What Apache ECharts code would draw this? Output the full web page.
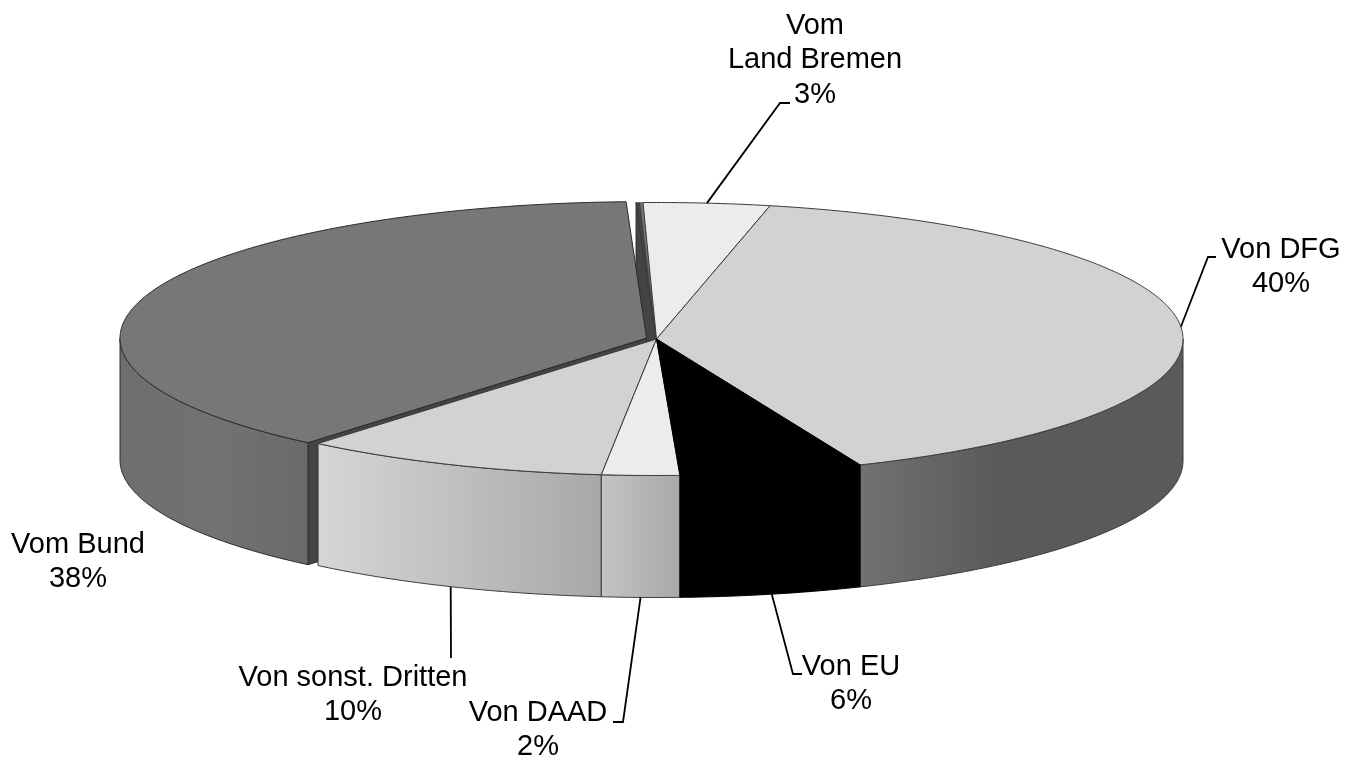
<!DOCTYPE html>
<html>
<head>
<meta charset="utf-8">
<style>html,body{margin:0;padding:0;background:#fff}#c{width:1355px;height:762px}</style>
<script src="https://cdn.jsdelivr.net/npm/echarts@6/dist/echarts.min.js"></script>
</head>
<body>
<div id="c"></div>
<script>
// Clockwise from the top of the pie
var sliceNames = ['Vom Land Bremen', 'Von DFG', 'Von EU', 'Von DAAD', 'Von sonst. Dritten', 'Vom Bund', 'Sonstige A', 'Sonstige B'];
var sliceShares = [3.87, 40.22, 5.61, 2.38, 9.44, 38.27, 0.12, 0.09];
var labelNames = ['Vom\nLand Bremen', 'Von DFG', 'Von EU', 'Von DAAD', 'Von sonst. Dritten', 'Vom Bund'];
var labelPercents = ['3%', '40%', '6%', '2%', '10%', '38%'];

// Styling and layout
var GEO = {cx: 656.5, cy: 339, rx: 526.5, ry: 136.5, depth: 122, startDeg: -1.47};
var topFill = ['#ececec', '#d2d2d2', '#000000', '#ececec', '#d2d2d2', '#777777', '#444444', '#777777'];
var wallStops = [
  null,
  [[0, '#727272'], [0.42, '#5a5a5a'], [1, '#5a5a5a']],
  [[0, '#000000'], [1, '#000000']],
  [[0, '#c4c4c4'], [1, '#a8a8a8']],
  [[0, '#d6d6d6'], [1, '#a8a8a8']],
  [[0, '#6e6e6e'], [0.5, '#727272'], [1, '#6a6a6a']],
  null, null
];
var outline = ['#3a3a3a', '#3a3a3a', '#000000', '#3a3a3a', '#3a3a3a', '#2a2a2a', '#3a3a3a', '#3a3a3a'];
var cutFaceFill = [null, null, null, null, null, '#444444', '#444444', null];
var explode = [0, 0, 0, 0, 0, 0.02, 0, 0];
var drawOrder = [6, 7, 0, 1, 5, 4, 3, 2];
var labelLayout = [
  {x: 815, y: 24, elbow: [780, 103], end: [790, 103], slice: 0},
  {x: 1281, y: 248, elbow: [1208, 257], end: [1216, 257], slice: 1},
  {x: 851, y: 665, elbow: [793, 674], end: [802, 674], slice: 2},
  {x: 538, y: 711, elbow: [623, 722], end: [613, 722], slice: 3},
  {x: 353, y: 676, elbow: [451, 658], end: null, slice: 4},
  {x: 78, y: 543, elbow: null, end: null, slice: 5}
];

var total = sliceShares.reduce(function (a, b) { return a + b; }, 0);
var bounds = [];
(function () {
  var cum = 0;
  sliceShares.forEach(function (v) {
    var a0 = echarts.number.linearMap(cum, [0, total], [GEO.startDeg, GEO.startDeg + 360]);
    cum += v;
    var a1 = echarts.number.linearMap(cum, [0, total], [GEO.startDeg, GEO.startDeg + 360]);
    bounds.push([a0, a1]);
  });
})();

function offsetOf(i) {
  var mid = (bounds[i][0] + bounds[i][1]) / 2 * Math.PI / 180;
  return [explode[i] * GEO.rx * Math.sin(mid), -explode[i] * GEO.ry * Math.cos(mid)];
}
function rimPoint(deg, off, drop) {
  var t = deg * Math.PI / 180;
  return [GEO.cx + off[0] + GEO.rx * Math.sin(t), GEO.cy + off[1] - GEO.ry * Math.cos(t) + (drop || 0)];
}
function arc(a0, a1, off, drop) {
  var n = Math.max(2, Math.ceil(Math.abs(a1 - a0) / 0.5)), pts = [];
  for (var k = 0; k <= n; k++) pts.push(rimPoint(a0 + (a1 - a0) * k / n, off, drop));
  return pts;
}

function renderSlice(params, api) {
  var i = api.value(0), a0 = bounds[i][0], a1 = bounds[i][1], off = offsetOf(i);
  var apex = [GEO.cx + off[0], GEO.cy + off[1]];
  var kids = [];
  // cut face along the start edge
  if (cutFaceFill[i]) {
    var r = rimPoint(a0, off);
    kids.push({type: 'polygon', shape: {points: [apex, r, [r[0], r[1] + GEO.depth], [apex[0], apex[1] + GEO.depth]]},
      style: {fill: cutFaceFill[i], stroke: '#2a2a2a', lineWidth: 1}});
  }
  // outer wall (front half only)
  var w0 = Math.max(a0, 90), w1 = Math.min(a1, 270);
  if (wallStops[i] && w1 > w0) {
    var pts = arc(w0, w1, off, 0).concat(arc(w1, w0, off, GEO.depth));
    var grad = new echarts.graphic.LinearGradient(0, 0, 1, 0, wallStops[i].map(function (s) {
      return {offset: s[0], color: s[1]};
    }));
    kids.push({type: 'polygon', shape: {points: pts}, style: {fill: grad, stroke: outline[i], lineWidth: 1}});
  }
  // top face
  var topPts = [apex].concat(arc(a0, a1, off, 0));
  kids.push({type: 'polygon', shape: {points: topPts},
    style: {fill: topFill[i], stroke: outline[i], lineWidth: i >= 6 ? 0.5 : 1}});
  return {type: 'group', children: kids};
}

function renderLabel(params, api) {
  var j = api.value(0), L = labelLayout[j], kids = [];
  if (L.elbow) {
    var i = L.slice, mid = (bounds[i][0] + bounds[i][1]) / 2;
    var isFront = mid > 90 && mid < 270;
    var start = rimPoint(mid, offsetOf(i), isFront ? GEO.depth : 0);
    var pts = [start, L.elbow];
    if (L.end) pts.push(L.end);
    kids.push({type: 'polyline', shape: {points: pts}, style: {fill: 'none', stroke: '#000', lineWidth: 1.8}});
  }
  kids.push({type: 'text', style: {
    text: labelNames[j] + '\n' + labelPercents[j], x: L.x, y: L.y, align: 'center', verticalAlign: 'top',
    fontSize: 29, fontFamily: '"Liberation Sans", Arial, sans-serif', lineHeight: 34.5, fill: '#000'
  }, y: -15.5});
  return {type: 'group', children: kids};
}

var chart = echarts.init(document.getElementById('c'), null, {renderer: 'canvas', width: 1355, height: 762});
chart.setOption({
  backgroundColor: '#ffffff',
  animation: false,
  series: [
    {type: 'custom', coordinateSystem: 'none', silent: true, z: 2,
      renderItem: renderSlice,
      data: drawOrder.map(function (i) { return {name: sliceNames[i], value: [i, sliceShares[i]]}; })},
    {type: 'custom', coordinateSystem: 'none', silent: true, z: 3,
      renderItem: renderLabel,
      data: labelNames.map(function (n, j) { return {name: n, value: [j]}; })}
  ]
});
</script>
</body>
</html>
